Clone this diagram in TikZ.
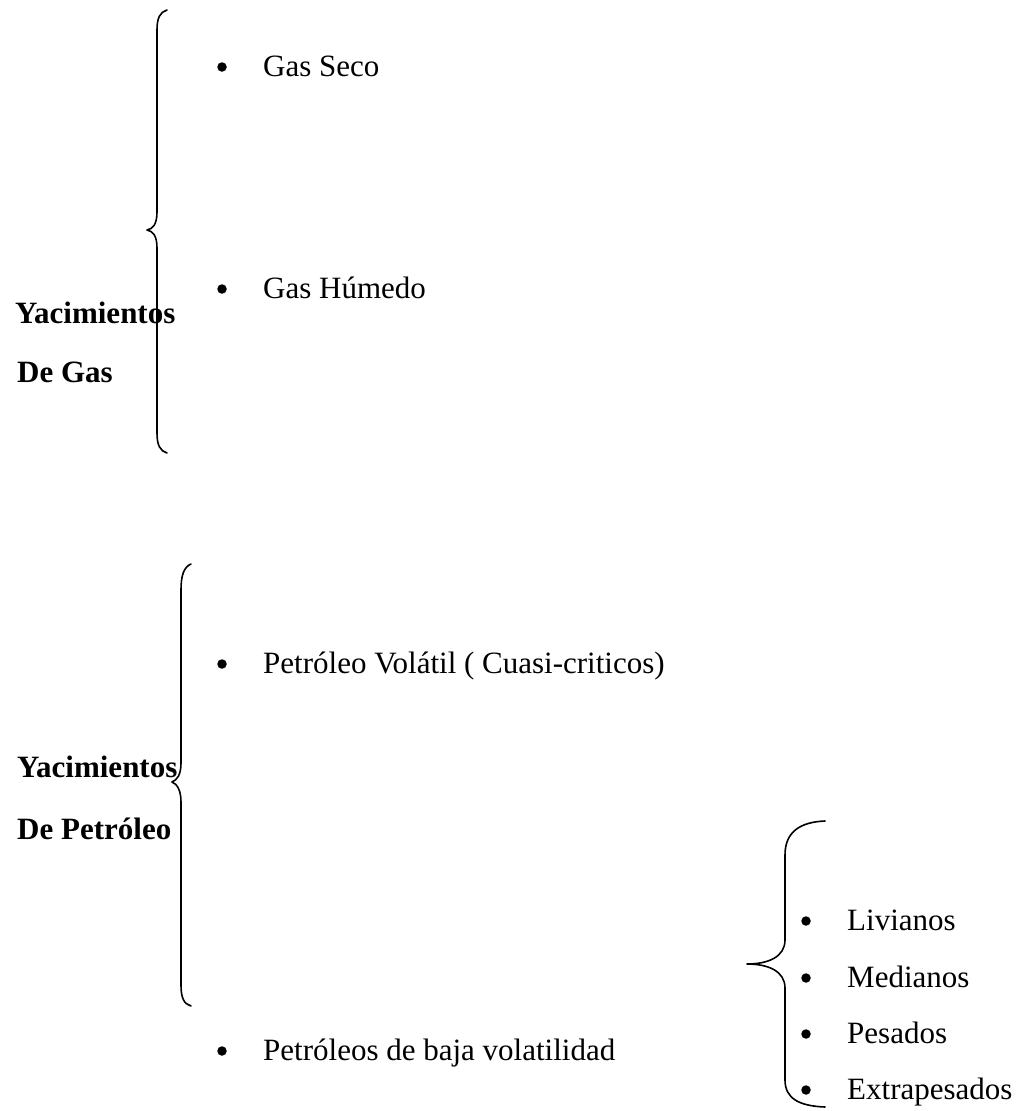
\documentclass[tikz,border=0pt]{standalone}
\usepackage{fontspec}
\setmainfont{Liberation Serif}
\begin{document}
\begin{tikzpicture}[x=1pt,y=-1pt,
  itemtext/.style={anchor=base west, inner sep=0pt, font=\fontsize{31}{37}\selectfont},
  headtext/.style={anchor=base west, inner sep=0pt, font=\fontsize{31}{37}\selectfont\bfseries},
  bul/.style={circle, fill=black, inner sep=0pt, minimum size=9.5pt},
  bracestyle/.style={line width=1.6pt, line cap=round, line join=round}]
\useasboundingbox (0,0) rectangle (1022,1111);

% Group 1: Yacimientos de Gas
\node[headtext] (h1a) at (15,323) {Yacimientos};
\node[headtext] (h1b) at (17,382) {De Gas};
\draw[bracestyle] (167,10) .. controls (160,12) and (157,18) .. (157,30) -- (157,212)
  .. controls (157,224) and (153,229) .. (147,230)
  .. controls (153,231) and (157,236) .. (157,248) -- (157,433)
  .. controls (157,445) and (160,451) .. (167,453);
\node[bul] (b1) at (222,67) {};
\node[itemtext] (t1) at (263,76) {Gas Seco};
\node[bul] (b2) at (222,289) {};
\node[itemtext] (t2) at (263,298) {Gas Húmedo};

% Group 2: Yacimientos de Petróleo
\node[headtext] (h2a) at (17,777) {Yacimientos};
\node[headtext] (h2b) at (17,839) {De Petróleo};
\draw[bracestyle] (191,564) .. controls (184,567) and (181,575) .. (181,590) -- (181,763)
  .. controls (181,775) and (177,780) .. (172,782)
  .. controls (177,784) and (181,790) .. (181,802) -- (181,985)
  .. controls (181,998) and (184,1004) .. (191,1006);
\node[bul] (b3) at (222,664) {};
\node[itemtext] (t3) at (263,673) {Petróleo Volátil ( Cuasi-criticos)};
\node[bul] (b4) at (222,1051) {};
\node[itemtext] (t4) at (263,1060) {Petróleos de baja volatilidad};

% Group 3: sub-list
\draw[bracestyle] (825,821) .. controls (800,822) and (785,832) .. (785,855) -- (785,940)
  .. controls (785,957) and (768,964) .. (747,964)
  .. controls (768,964) and (785,971) .. (785,988) -- (785,1080)
  .. controls (785,1099) and (800,1106) .. (825,1107);
\node[bul] (b5) at (806,921) {};
\node[itemtext] (t5) at (847,930) {Livianos};
\node[bul] (b6) at (806,978) {};
\node[itemtext] (t6) at (847,987) {Medianos};
\node[bul] (b7) at (806,1034) {};
\node[itemtext] (t7) at (847,1043) {Pesados};
\node[bul] (b8) at (806,1090) {};
\node[itemtext] (t8) at (847,1099) {Extrapesados};
\end{tikzpicture}
\end{document}
